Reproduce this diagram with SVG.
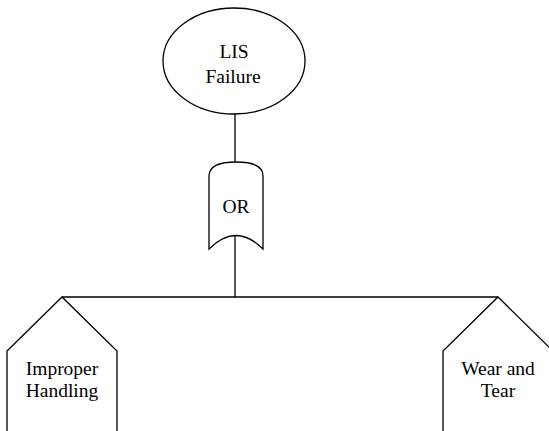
<svg xmlns="http://www.w3.org/2000/svg" width="549" height="431" viewBox="0 0 549 431">
  <style>
    .shape { fill: #ffffff; stroke: #000000; stroke-width: 1.3; }
    .wire { fill: none; stroke: #000000; stroke-width: 1.3; }
    .label { font-family: "Liberation Serif", "Times New Roman", serif; font-size: 19.5px; fill: #000000; text-anchor: middle; }
  </style>
  <rect width="549" height="431" fill="#ffffff"/>
  <g id="connectors">
    <line class="wire" x1="235" y1="114" x2="235" y2="162"/>
    <line class="wire" x1="235" y1="236" x2="235" y2="297"/>
    <line class="wire" x1="62" y1="297" x2="498" y2="297"/>
  </g>
  <g id="top-event">
    <ellipse class="shape" cx="234" cy="61" rx="71" ry="53"/>
    <text class="label" x="234" y="58">LIS</text>
    <text class="label" x="233" y="83">Failure</text>
  </g>
  <g id="or-gate">
    <path class="shape" d="M209,249 L209,176 Q209,162 236,162 Q263,162 263,176 L263,249 Q236,222 209,249 Z"/>
    <text class="label" x="236" y="213">OR</text>
  </g>
  <g id="improper-handling">
    <path class="shape" d="M7,431 L7,351 L62,297 L117,351 L117,431"/>
    <text class="label" x="62" y="375">Improper</text>
    <text class="label" x="62" y="397">Handling</text>
  </g>
  <g id="wear-and-tear">
    <path class="shape" d="M443,431 L443,351 L498,297 L553,351 L553,431"/>
    <text class="label" x="498" y="375">Wear and</text>
    <text class="label" x="498" y="397">Tear</text>
  </g>
</svg>
